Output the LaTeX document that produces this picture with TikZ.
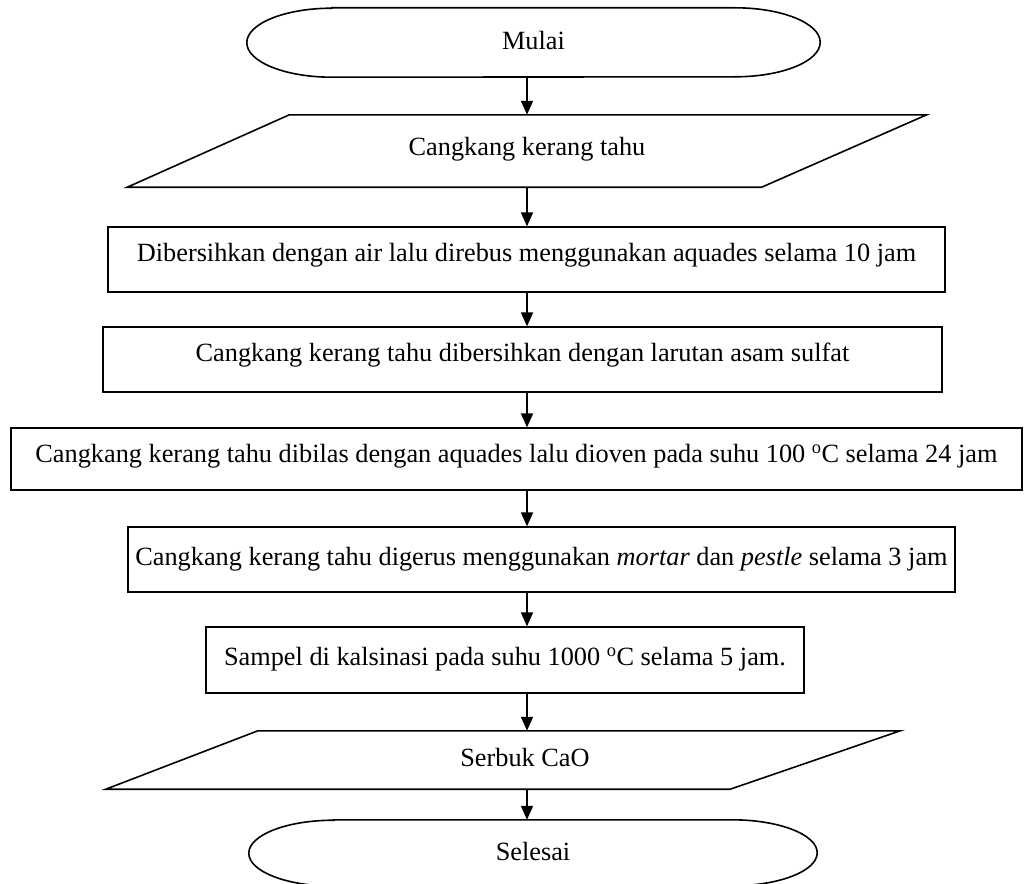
\documentclass[tikz,border=0pt]{standalone}
\usepackage{fontspec}
\setmainfont{Liberation Serif}
\usetikzlibrary{arrows.meta,calc}
\begin{document}
\begin{tikzpicture}[x=1pt,y=-1pt,
  every node/.style={font=\fontsize{26.3}{30}\selectfont, inner sep=0pt},
  procbox/.style={draw, line width=1.2pt, rectangle},
  blank/.style={rectangle, draw=none},
  outl/.style={line width=1.6pt, line join=miter},
  flow/.style={line width=1.7pt, -{Triangle[width=12pt,length=14pt]}}]
\useasboundingbox (0,0) rectangle (1030,883);
% nodes
\node[blank, minimum width=573pt, minimum height=69pt] (mulai) at (533.5,42.5) {\raisebox{4pt}{Mulai}};
\node[blank, minimum width=799pt, minimum height=72pt] (in1) at (527,151) {\raisebox{9pt}{Cangkang kerang tahu}};
\node[procbox, minimum width=837pt, minimum height=65pt] (b1) at (526.5,259.5) {\raisebox{14pt}{Dibersihkan dengan air lalu direbus menggunakan aquades selama 10 jam}};
\node[procbox, minimum width=839pt, minimum height=65pt] (b2) at (522.5,359.5) {\raisebox{14pt}{Cangkang kerang tahu dibersihkan dengan larutan asam sulfat}};
\node[procbox, minimum width=1011pt, minimum height=62pt] (b3) at (516.5,459) {\raisebox{11pt}{Cangkang kerang tahu dibilas dengan aquades lalu dioven pada suhu 100 \textsuperscript{o}C selama 24 jam}};
\node[procbox, minimum width=827pt, minimum height=65pt] (b4) at (541.5,559.5) {\raisebox{6pt}{Cangkang kerang tahu digerus menggunakan \textit{mortar} dan \textit{pestle} selama 3 jam}};
\node[procbox, minimum width=598pt, minimum height=66pt] (b5) at (505,660) {\raisebox{8pt}{Sampel di kalsinasi pada suhu 1000 \textsuperscript{o}C selama 5 jam.}};
\node[blank, minimum width=794pt, minimum height=58pt] (out1) at (503,760) {\raisebox{5pt}{\hspace*{44pt}Serbuk CaO}};
\node[blank, minimum width=568pt, minimum height=66pt] (selesai) at (533,853) {\raisebox{3pt}{Selesai}};
% shapes
\draw[outl] ($(mulai.north west)+(85,0)$) -- ($(mulai.north east)+(-85,0)$)
  arc[start angle=-90, end angle=90, x radius=85, y radius=34.5]
  -- ($(mulai.south west)+(85,0)$)
  arc[start angle=90, end angle=270, x radius=85, y radius=34.5] -- cycle;
\draw[outl] ($(in1.north west)+(162,0)$) -- (in1.north east)
  -- ($(in1.south east)+(-165,0)$) -- (in1.south west) -- cycle;
\draw[outl] ($(out1.north west)+(152,0)$) -- (out1.north east)
  -- ($(out1.south east)+(-170,0)$) -- (out1.south west) -- cycle;
\draw[outl] ($(selesai.north west)+(85,0)$) -- ($(selesai.north east)+(-85,0)$)
  arc[start angle=-90, end angle=90, x radius=85, y radius=33]
  -- ($(selesai.south west)+(85,0)$)
  arc[start angle=90, end angle=270, x radius=85, y radius=33] -- cycle;
% connectors
\coordinate (c0) at (527,0);
\draw[flow] (c0 |- mulai.south) -- (c0 |- in1.north);
\draw[flow] (c0 |- in1.south) -- (c0 |- b1.north);
\draw[flow] (c0 |- b1.south) -- (c0 |- b2.north);
\draw[flow] (c0 |- b2.south) -- (c0 |- b3.north);
\draw[flow] (c0 |- b3.south) -- (c0 |- b4.north);
\draw[flow] (c0 |- b4.south) -- (c0 |- b5.north);
\draw[flow] (c0 |- b5.south) -- (c0 |- out1.north);
\draw[flow] (c0 |- out1.south) -- (c0 |- selesai.north);
\end{tikzpicture}
\end{document}
